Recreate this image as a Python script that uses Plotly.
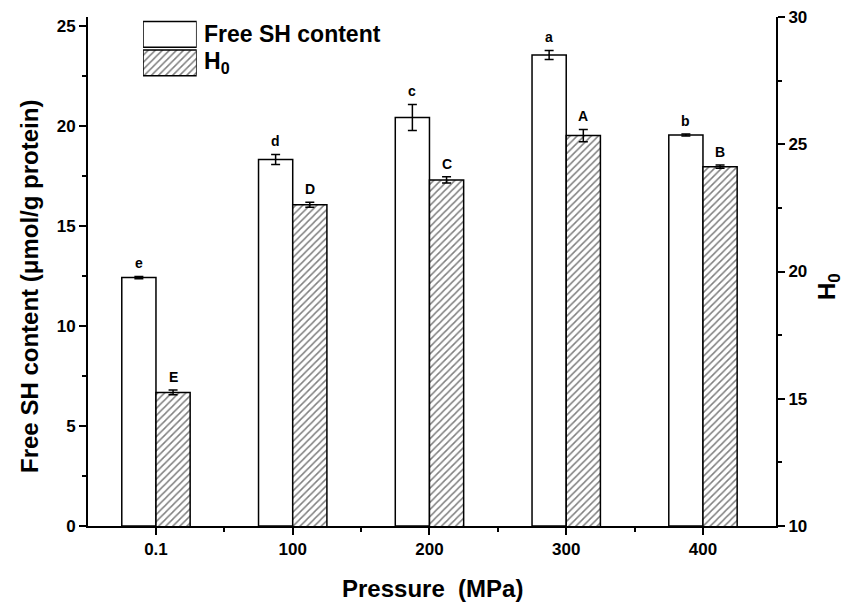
import plotly.graph_objects as go

pressures = ["0.1", "100", "200", "300", "400"]
sh_values = [12.42, 18.33, 20.43, 23.55, 19.55]
sh_errors = [0.06, 0.25, 0.65, 0.23, 0.05]
sh_letters = ["e", "d", "c", "a", "b"]
h0_values = [15.25, 22.62, 23.60, 25.34, 24.12]
h0_errors = [0.09, 0.10, 0.12, 0.24, 0.06]
h0_letters = ["E", "D", "C", "A", "B"]
legend_names = ["Free SH content", "H<sub>0</sub>"]

xpos = list(range(len(pressures)))
FONT = "Liberation Sans, Arial, sans-serif"
BAR_W = 0.25
HATCH = dict(shape="/", fgcolor="#000000", bgcolor="white", size=5, solidity=0.3)
OUTLINE = dict(color="black", width=1.5)


def bold(size):
    return dict(family=FONT, size=size, color="black", weight="bold")


fig = go.Figure()
fig.add_trace(go.Bar(
    x=xpos, y=sh_values, name=legend_names[0], width=BAR_W, offset=-BAR_W,
    marker=dict(color="white", line=OUTLINE),
    error_y=dict(type="data", array=sh_errors, color="black", thickness=1.5, width=4.5),
    yaxis="y", showlegend=False,
))
fig.add_trace(go.Bar(
    x=xpos, y=h0_values, name=legend_names[1], width=BAR_W, offset=0,
    marker=dict(color="white", line=OUTLINE, pattern=HATCH),
    error_y=dict(type="data", array=h0_errors, color="black", thickness=1.5, width=4.5),
    yaxis="y2", showlegend=False,
))

# legend keys (large swatches, as in the reference)
fig.add_trace(go.Bar(x=[1], y=[1], orientation="h", width=0.9, xaxis="x3", yaxis="y3",
                     marker=dict(color="white", line=OUTLINE), showlegend=False, hoverinfo="skip"))
fig.add_trace(go.Bar(x=[1], y=[0], orientation="h", width=0.9, xaxis="x3", yaxis="y3",
                     marker=dict(color="white", line=OUTLINE, pattern=HATCH), showlegend=False,
                     hoverinfo="skip"))

annotations = []
for i in xpos:
    annotations.append(dict(x=i - BAR_W / 2, y=sh_values[i] + sh_errors[i], xref="x", yref="y",
                            text=sh_letters[i], showarrow=False, yanchor="bottom", yshift=3,
                            font=bold(14)))
    annotations.append(dict(x=i + BAR_W / 2, y=h0_values[i] + h0_errors[i], xref="x", yref="y2",
                            text=h0_letters[i], showarrow=False, yanchor="bottom", yshift=3,
                            font=bold(14)))
for k, name in enumerate(legend_names):
    annotations.append(dict(x=1.1, y=1 - k, xref="x3 domain", yref="y3", text=name,
                            showarrow=False, xanchor="left", yanchor="middle", font=bold(23)))

# axis titles
annotations.append(dict(x=-0.084, y=0.47, xref="paper", yref="paper", textangle=-90,
                        text="Free SH content (μmol/g protein)", showarrow=False,
                        xanchor="center", yanchor="middle", font=bold(24)))
annotations.append(dict(x=1.076, y=0.47, xref="paper", yref="paper", textangle=-90,
                        text="H<sub>0</sub>", showarrow=False,
                        xanchor="center", yanchor="middle", font=bold(24)))
annotations.append(dict(x=0.5, y=-0.122, xref="paper", yref="paper",
                        text="Pressure  (MPa)", showarrow=False,
                        xanchor="center", yanchor="middle", font=bold(24)))

axis_common = dict(showline=True, linecolor="black", linewidth=2, ticks="outside", ticklen=7,
                   tickwidth=2, tickcolor="black", showgrid=False, zeroline=False,
                   tickfont=bold(17))

fig.update_layout(
    width=857, height=605,
    margin=dict(l=88, r=81, t=17, b=79, autoexpand=False),
    paper_bgcolor="white", plot_bgcolor="white",
    font=dict(family=FONT, color="black", size=15),
    showlegend=False,
    annotations=annotations,
    xaxis=dict(
        range=[-0.497, 4.534], tickmode="array", tickvals=xpos, ticktext=pressures,
        minor=dict(tickmode="array", tickvals=[0.5, 1.5, 2.5, 3.5], ticks="outside", ticklen=4,
                   tickwidth=2, tickcolor="black"),
        **axis_common,
    ),
    yaxis=dict(
        range=[0, 25.45], tickmode="array", tickvals=[0, 5, 10, 15, 20, 25],
        minor=dict(tickmode="array", tickvals=[2.5, 7.5, 12.5, 17.5, 22.5], ticks="outside",
                   ticklen=4, tickwidth=2, tickcolor="black"),
        **axis_common,
    ),
    yaxis2=dict(
        range=[10, 30], overlaying="y", side="right", tickmode="array", tickvals=[10, 15, 20, 25, 30],
        minor=dict(tickmode="array", tickvals=[12.5, 17.5, 22.5, 27.5], ticks="outside",
                   ticklen=4, tickwidth=2, tickcolor="black"),
        **axis_common,
    ),
    xaxis3=dict(domain=[0.080, 0.158], range=[0, 1], visible=False, anchor="y3"),
    yaxis3=dict(domain=[0.882, 0.994], range=[-0.5, 1.5], visible=False, anchor="x3"),
)

fig.write_html("out.html", config={"displayModeBar": False},
               post_script="document.body.style.margin='0';")
